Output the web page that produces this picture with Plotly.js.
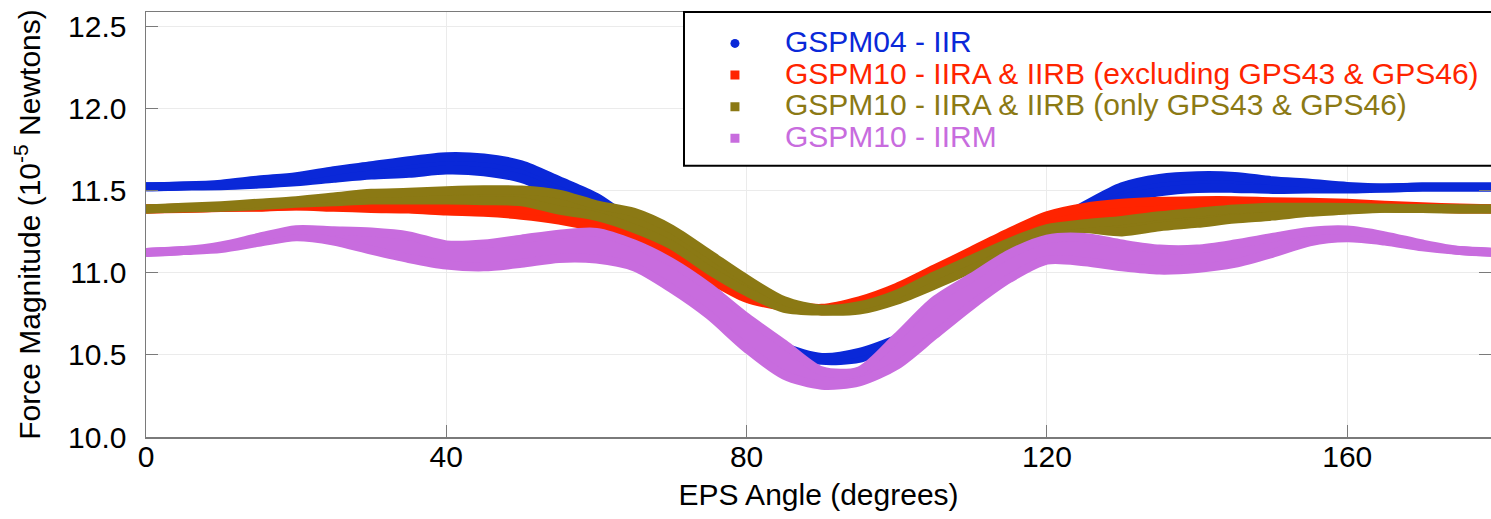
<!DOCTYPE html>
<html>
<head>
<meta charset="utf-8">
<script src="https://cdn.plot.ly/plotly-3.0.1.min.js"></script>
<style>html,body{margin:0;padding:0;background:#fff;}#chart{width:1491px;height:519px;}</style>
</head>
<body>
<div id="chart"></div>
<script>
// EPS angle (degrees)
var ANGLE = [0,5,10,15,20,25,30,35,40,45,50,55,60,65,70,75,80,85,90,95,100,105,110,115,120,125,130,135,140,145,150,155,160,165,170,175,180];

// GSPM04 - IIR (upper / lower envelope, 1e-5 N)
var IIR_HI = [11.525,11.530,11.541,11.566,11.586,11.623,11.653,11.684,11.708,11.700,11.659,11.562,11.460,11.300,11.120,10.920,10.700,10.550,10.485,10.515,10.596,10.700,10.860,11.050,11.280,11.409,11.525,11.576,11.592,11.588,11.562,11.546,11.527,11.518,11.523,11.523,11.523];
var IIR_LO = [11.525,11.530,11.531,11.541,11.555,11.576,11.596,11.607,11.627,11.617,11.576,11.480,11.390,11.220,11.045,10.833,10.654,10.518,10.467,10.479,10.570,10.680,10.850,10.990,11.180,11.330,11.450,11.495,11.515,11.515,11.509,11.511,11.511,11.518,11.523,11.523,11.523];

// GSPM10 - IIRA & IIRB (excluding GPS43 & GPS46)
var IIRAB_HI = [11.390,11.395,11.400,11.400,11.410,11.410,11.410,11.410,11.410,11.400,11.390,11.360,11.330,11.270,11.170,11.030,10.900,10.810,10.784,10.830,10.912,11.023,11.135,11.247,11.348,11.399,11.424,11.436,11.440,11.440,11.434,11.430,11.424,11.413,11.403,11.395,11.390];
var IIRAB_LO = [11.389,11.393,11.399,11.403,11.407,11.400,11.393,11.389,11.377,11.369,11.352,11.322,11.275,11.210,11.109,10.966,10.845,10.795,10.770,10.790,10.860,10.970,11.080,11.180,11.270,11.300,11.320,11.340,11.360,11.380,11.400,11.400,11.400,11.400,11.395,11.390,11.389];

// GSPM10 - IIRA & IIRB (only GPS43 & GPS46)
var GPS4346_HI = [11.389,11.400,11.410,11.425,11.440,11.462,11.485,11.491,11.501,11.507,11.505,11.480,11.415,11.369,11.267,11.115,10.962,10.830,10.779,10.800,10.871,10.982,11.084,11.186,11.270,11.300,11.320,11.348,11.369,11.389,11.400,11.400,11.399,11.394,11.392,11.389,11.389];
var GPS4346_LO = [11.389,11.395,11.400,11.410,11.424,11.434,11.444,11.444,11.444,11.440,11.434,11.383,11.345,11.271,11.170,11.017,10.885,10.784,10.767,10.773,10.834,10.926,11.027,11.150,11.255,11.270,11.250,11.281,11.302,11.328,11.346,11.369,11.383,11.394,11.392,11.389,11.389];

// GSPM10 - IIRM
var IIRM_HI = [11.125,11.136,11.165,11.216,11.263,11.257,11.249,11.226,11.171,11.176,11.206,11.236,11.247,11.176,11.064,10.912,10.729,10.566,10.403,10.403,10.607,10.830,10.973,11.115,11.206,11.216,11.176,11.145,11.145,11.176,11.216,11.253,11.261,11.226,11.176,11.136,11.125];
var IIRM_LO = [11.125,11.136,11.149,11.186,11.220,11.194,11.139,11.088,11.048,11.037,11.058,11.088,11.084,11.037,10.905,10.743,10.540,10.377,10.316,10.336,10.438,10.621,10.804,10.966,11.078,11.068,11.037,11.017,11.027,11.058,11.119,11.190,11.214,11.194,11.159,11.136,11.125];

var SERIES = [
  {name:'GSPM04 - IIR', hi:IIR_HI, lo:IIR_LO, color:'#0a28d8', symbol:'circle'},
  {name:'GSPM10 - IIRA &amp; IIRB (excluding GPS43 &amp; GPS46)', hi:IIRAB_HI, lo:IIRAB_LO, color:'#ff2400', symbol:'square'},
  {name:'GSPM10 - IIRA &amp; IIRB (only GPS43 &amp; GPS46)', hi:GPS4346_HI, lo:GPS4346_LO, color:'#8b7914', symbol:'square'},
  {name:'GSPM10 - IIRM', hi:IIRM_HI, lo:IIRM_LO, color:'#c86cde', symbol:'square'}
];

var FONT = '"Liberation Sans", Arial, Helvetica, sans-serif';
var traces = [];
SERIES.forEach(function(s){
  traces.push({x:ANGLE, y:s.lo, type:'scatter', mode:'lines', line:{color:s.color, width:9, shape:'spline', smoothing:0.8}, showlegend:false, hoverinfo:'skip'});
  traces.push({x:ANGLE, y:s.hi, type:'scatter', mode:'lines', fill:'tonexty', fillcolor:s.color, line:{color:s.color, width:9, shape:'spline', smoothing:0.8}, showlegend:false, hoverinfo:'skip'});
});
SERIES.forEach(function(s){
  traces.push({x:[null], y:[null], type:'scatter', mode:'markers', name:'<span style="color:'+s.color+';font-size:30px">'+s.name+'</span>', marker:{color:s.color, symbol:s.symbol, size:9}, showlegend:true});
});

var layout = {
  width:1491, height:519,
  margin:{l:146, r:0, t:12, b:82, pad:0},
  paper_bgcolor:'#ffffff', plot_bgcolor:'#ffffff',
  font:{family:FONT, size:30, color:'#000'},
  showlegend:true,
  legend:{x:0.4007, xanchor:'left', y:0.975, yanchor:'top', traceorder:'normal', bgcolor:'rgba(0,0,0,0)', borderwidth:0, font:{family:FONT, size:22, color:'#000'}, itemwidth:90, tracegroupgap:0},
  xaxis:{range:[0,179.15], tick0:0, dtick:40, showgrid:true, gridcolor:'#ebebeb', gridwidth:1, zeroline:false,
         showline:true, linecolor:'#7a7a7a', linewidth:1.5, mirror:true, ticks:'inside', ticklen:12, tickcolor:'#7a7a7a', tickwidth:1,
         tickfont:{family:FONT, size:30, color:'#000'}, ticklabelstandoff:-8,
         title:{text:'EPS Angle (degrees)', font:{family:FONT, size:30, color:'#000'}, standoff:12}},
  yaxis:{range:[10,12.59], tick0:10, dtick:0.5, tickformat:'.1f', showgrid:true, gridcolor:'#ebebeb', gridwidth:1, zeroline:false,
         showline:true, linecolor:'#7a7a7a', linewidth:1.5, mirror:'ticks', ticks:'inside', ticklen:12, tickcolor:'#7a7a7a', tickwidth:1,
         tickfont:{family:FONT, size:30, color:'#000'}, ticklabelstandoff:12,
         title:{text:'Force Magnitude (10<sup>-5</sup> Newtons)', font:{family:FONT, size:30, color:'#000'}, standoff:18}},
  shapes:[{type:'rect', xref:'paper', yref:'paper', x0:0.4, x1:1.01, y0:0.638, y1:1.0, line:{color:'#000', width:2}, fillcolor:'#ffffff', layer:'above'}]
};

Plotly.newPlot('chart', traces, layout, {displayModeBar:false, staticPlot:true});
</script>
</body>
</html>
